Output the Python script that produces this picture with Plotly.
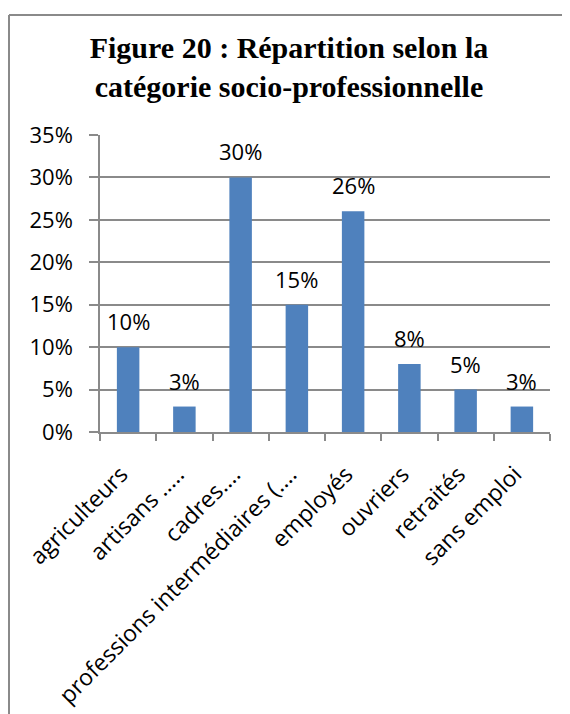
import plotly.graph_objects as go

categories = ["agriculteurs", "artisans .....", "cadres....", "professions intermédiaires (....",
              "employés", "ouvriers", "retraités", "sans emploi"]
values = [0.10, 0.03, 0.30, 0.15, 0.26, 0.08, 0.05, 0.03]
labels = ["10%", "3%", "30%", "15%", "26%", "8%", "5%", "3%"]
title_text = "<b>Figure 20 : Répartition selon la<br>catégorie socio-professionnelle</b>"

# figure is offset by the 8px page margin
W, H = 562, 706
L, R, T, B = 92, 20, 127, 282
pw, ph = W - L - R, H - T - B

def px2x(px):
    return (px - L) / pw

def py2y(py):
    return (H - B - py) / ph

FONT = "Open Sans"
FS = 22
GRAY = "#8a8a8a"

fig = go.Figure()
fig.add_trace(go.Bar(x=categories, y=values, marker=dict(color="#4F81BD", line=dict(width=0)),
                     hoverinfo="skip"))

for c, v, t in zip(categories, values, labels):
    fig.add_annotation(x=c, y=v, text=t, showarrow=False, yshift=26, yanchor="middle",
                       font=dict(family=FONT, size=FS, color="#000000"))

border = dict(color=GRAY, width=2)
fig.add_shape(type="line", xref="paper", yref="paper", x0=px2x(1), x1=px2x(1),
              y0=py2y(7), y1=py2y(H + 10), line=border)
fig.add_shape(type="line", xref="paper", yref="paper", x0=px2x(1), x1=px2x(W + 10),
              y0=py2y(7), y1=py2y(7), line=border)

fig.update_layout(
    width=W, height=H,
    margin=dict(l=L, r=R, t=T, b=B, autoexpand=False),
    paper_bgcolor="white", plot_bgcolor="white",
    bargap=0.6,
    showlegend=False,
    title=dict(text=title_text, x=281 / W, xanchor="center", y=1 - 50 / H, yanchor="top",
               xref="container", yref="container",
               font=dict(family="Liberation Serif", size=30, color="#000000")),
    font=dict(family=FONT, size=FS, color="#000000"),
)
fig.update_yaxes(range=[0, 0.35], dtick=0.05, tickformat=".0%", showgrid=True,
                 gridcolor=GRAY, gridwidth=1.5, showline=True, linecolor=GRAY, linewidth=1.5,
                 ticks="outside", ticklen=9, tickcolor=GRAY, tickwidth=1.5,
                 ticklabelstandoff=12, zeroline=False, automargin=False,
                 tickfont=dict(family=FONT, size=FS, color="#000000"))
fig.update_xaxes(showline=True, linecolor=GRAY, linewidth=1.5, ticks="outside", ticklen=7,
                 tickcolor=GRAY, tickwidth=1.5, tickson="boundaries", tickangle=-45,
                 ticklabelstandoff=18, ticklabelshift=-7, automargin=False,
                 showgrid=False, tickfont=dict(family=FONT, size=23, color="#000000"))

fig.write_html("out.html")
